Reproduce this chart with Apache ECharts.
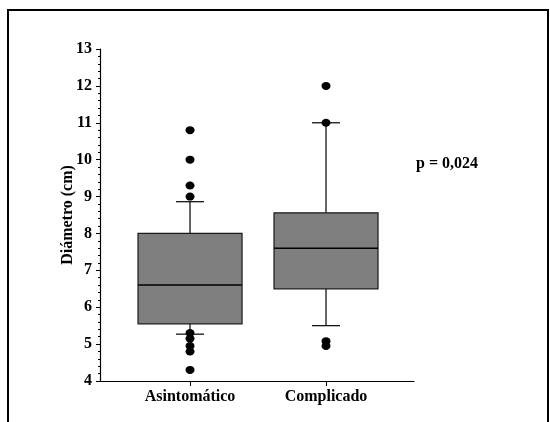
<!DOCTYPE html>
<html>
<head>
<meta charset="utf-8">
<script src="https://cdn.jsdelivr.net/npm/echarts@6/dist/echarts.min.js"></script>
<style>
  html, body { margin: 0; padding: 0; background: #fff; }
  #chart { width: 550px; height: 422px; }
</style>
</head>
<body>
<div id="chart"></div>
<script>
// grupos
const categories = ["Asintomático", "Complicado"];
// [min bigote, Q1, mediana, Q3, max bigote]
const boxStats = [
  [5.27, 5.55, 6.6, 8.0, 8.86],
  [5.5, 6.5, 7.6, 8.56, 11.0]
];
// valores atípicos por grupo
const outliersAsint = [10.8, 10.0, 9.3, 9.0, 5.3, 5.15, 4.95, 4.8, 4.3];
const outliersCompl = [12.0, 11.0, 5.08, 4.95];
const yTicks = [4, 5, 6, 7, 8, 9, 10, 11, 12, 13];
const pText = "p = 0,024";

const font = "'Liberation Serif', 'Times New Roman', serif";

let boxData = boxStats.map((s, i) => [i].concat(s));
let outlierData = [];
outliersAsint.forEach(v => outlierData.push([0, v]));
outliersCompl.forEach(v => outlierData.push([1, v]));

function renderBox(params, api) {
  let x = api.value(0);
  let lo = api.coord([x, api.value(1)]);
  let q1 = api.coord([x, api.value(2)]);
  let med = api.coord([x, api.value(3)]);
  let q3 = api.coord([x, api.value(4)]);
  let hi = api.coord([x, api.value(5)]);
  let unit = api.size([1, 0])[0];
  let bw = unit * 0.765; // ancho de la caja
  let cw = unit * 0.206; // ancho del remate del bigote
  let cx = lo[0];
  let line = { stroke: "#000", lineWidth: 1.2 };
  return {
    type: "group",
    children: [
      { type: "line", shape: { x1: cx, y1: q3[1], x2: cx, y2: hi[1] }, style: line },
      { type: "line", shape: { x1: cx, y1: lo[1], x2: cx, y2: q1[1] }, style: line },
      { type: "line", shape: { x1: cx - cw / 2, y1: hi[1], x2: cx + cw / 2, y2: hi[1] }, style: line },
      { type: "line", shape: { x1: cx - cw / 2, y1: lo[1], x2: cx + cw / 2, y2: lo[1] }, style: line },
      {
        type: "rect",
        shape: { x: cx - bw / 2, y: q3[1], width: bw, height: q1[1] - q3[1] },
        style: { fill: "#7f7f7f", stroke: "#1a1a1a", lineWidth: 1.2 }
      },
      { type: "line", shape: { x1: cx - bw / 2, y1: med[1], x2: cx + bw / 2, y2: med[1] }, style: { stroke: "#000", lineWidth: 1.5 } }
    ]
  };
}

let chart = echarts.init(document.getElementById("chart"), null, { renderer: "canvas" });
let option = {
  backgroundColor: "#fff",
  animation: false,
  graphic: [
    {
      type: "rect",
      shape: { x: 8, y: 10, width: 540, height: 440 },
      style: { fill: null, stroke: "#000", lineWidth: 2 },
      z: 100
    },
    {
      type: "text",
      left: 416,
      top: 156,
      style: { text: pText, font: "bold 16px " + font, fill: "#000" }
    }
  ],
  grid: { left: 100, top: 49, right: 136, bottom: 41 },
  xAxis: {
    type: "value",
    min: -0.662,
    max: 1.647,
    splitLine: { show: false },
    axisLine: { onZero: false, lineStyle: { color: "#000", width: 1.2 } },
    axisTick: { show: true, length: 5, customValues: [0, 1], lineStyle: { color: "#000" } },
    axisLabel: {
      customValues: [0, 1],
      formatter: v => categories[Math.round(v)],
      margin: 8,
      color: "#000",
      fontFamily: font,
      fontWeight: "bold",
      fontSize: 16
    }
  },
  yAxis: {
    type: "value",
    min: 4,
    max: 13,
    interval: 1,
    name: "Diámetro (cm)",
    nameLocation: "middle",
    nameGap: 24,
    nameMoveOverlap: false,
    nameTextStyle: { color: "#000", fontFamily: font, fontWeight: "bold", fontSize: 16 },
    splitLine: { show: false },
    axisLine: { show: true, onZero: false, lineStyle: { color: "#000", width: 1.2 } },
    axisTick: { show: true, length: 4, lineStyle: { color: "#000" } },
    minorTick: { show: true, splitNumber: 5, length: 2, lineStyle: { color: "#000" } },
    axisLabel: {
      margin: 8,
      color: "#000",
      fontFamily: font,
      fontWeight: "bold",
      fontSize: 16,
      formatter: v => (yTicks.indexOf(v) >= 0 ? String(v) : "")
    }
  },
  series: [
    {
      type: "custom",
      renderItem: renderBox,
      data: boxData,
      encode: { x: 0, y: [1, 2, 3, 4, 5] },
      z: 2
    },
    {
      type: "scatter",
      data: outlierData,
      symbol: "circle",
      symbolSize: [9, 8],
      itemStyle: { color: "#000", opacity: 1 },
      z: 3
    }
  ]
};
chart.setOption(option);
</script>
</body>
</html>
